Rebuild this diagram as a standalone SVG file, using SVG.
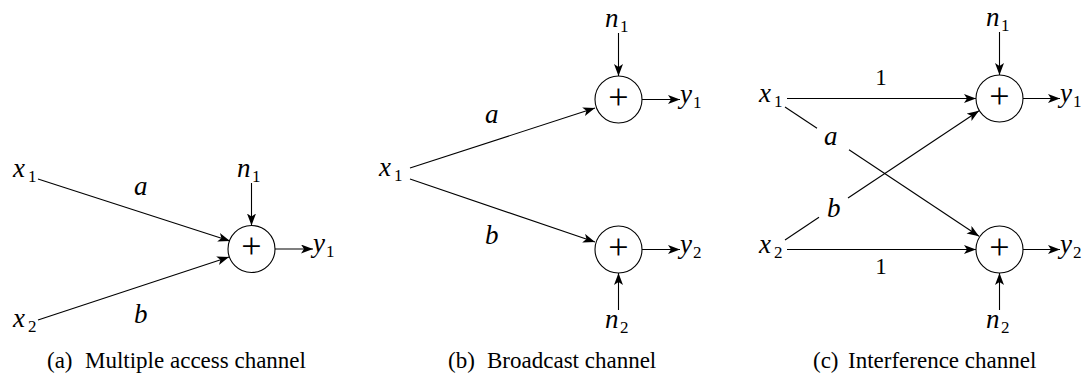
<svg xmlns="http://www.w3.org/2000/svg" width="1091" height="374" viewBox="0 0 1091 374">
<style>
.m{font-style:italic;font-size:27px;fill:#000}
.s{font-style:normal;font-size:17px}
.u{font-size:23px;text-anchor:middle;fill:#000}
.cap{font-size:23px;fill:#000}
.ln{stroke:#000;stroke-width:1.1;fill:none}
.ar{marker-end:url(#arr)}
.sum{fill:#fff;stroke:#000;stroke-width:1.1}
.plus{font-size:36px;text-anchor:middle;fill:#000}
</style>
<defs>
<marker id="arr" markerUnits="userSpaceOnUse" markerWidth="13" markerHeight="10" refX="12" refY="4.5" orient="auto" viewBox="0 0 13 10">
<path d="M0,0 L12,4.5 L0,9 L3,4.5 z" fill="#000"/>
</marker>
</defs>
<rect width="1091" height="374" fill="#fff"/>

<g id="connectors">
<line class="ln ar" x1="38" y1="179" x2="230" y2="241"/>
<line class="ln ar" x1="38" y1="320" x2="229" y2="257"/>
<line class="ln ar" x1="251.5" y1="183" x2="251.5" y2="225.5"/>
<line class="ln ar" x1="275" y1="249" x2="313" y2="249"/>
<line class="ln ar" x1="410" y1="168" x2="595" y2="108"/>
<line class="ln ar" x1="410" y1="179" x2="595" y2="242"/>
<line class="ln ar" x1="618.5" y1="33" x2="618.5" y2="76"/>
<line class="ln ar" x1="618.5" y1="310" x2="618.5" y2="273"/>
<line class="ln ar" x1="642" y1="99.5" x2="680" y2="99.5"/>
<line class="ln ar" x1="642" y1="249.5" x2="680" y2="249.5"/>
<line class="ln ar" x1="787" y1="98.5" x2="976" y2="98.5"/>
<line class="ln ar" x1="787" y1="249.5" x2="976" y2="249.5"/>
<line class="ln" x1="785" y1="107" x2="817" y2="128.3"/>
<line class="ln ar" x1="849" y1="149.7" x2="979" y2="236.3"/>
<line class="ln" x1="785" y1="240" x2="819" y2="217.3"/>
<line class="ln ar" x1="848" y1="198" x2="979" y2="110.7"/>
<line class="ln ar" x1="999.5" y1="32" x2="999.5" y2="75"/>
<line class="ln ar" x1="999.5" y1="310" x2="999.5" y2="273"/>
<line class="ln ar" x1="1023" y1="98.5" x2="1060" y2="98.5"/>
<line class="ln ar" x1="1023" y1="249.5" x2="1060" y2="249.5"/>
</g>

<g id="edge-labels" font-family="Liberation Serif, serif">
<text class="m" x="134" y="195">a</text>
<text class="m" x="134" y="323">b</text>
<text class="m" x="485" y="123">a</text>
<text class="m" x="485" y="244">b</text>
<text class="m" x="824" y="145">a</text>
<text class="m" x="827" y="217">b</text>
<text class="u" x="881" y="85">1</text>
<text class="u" x="881" y="274">1</text>
</g>

<g id="nodes" font-family="Liberation Serif, serif">
<g id="a-x1"><text class="m" x="13" y="177">x<tspan class="s" x="28" y="182">1</tspan></text></g>
<g id="a-x2"><text class="m" x="13" y="327">x<tspan class="s" x="28" y="332">2</tspan></text></g>
<g id="a-sum"><circle class="sum" cx="251.5" cy="249" r="23.5"/><text class="plus" x="251.5" y="258">+</text></g>
<g id="a-n1"><text class="m" x="237" y="177">n<tspan class="s" x="252" y="182">1</tspan></text></g>
<g id="a-y1"><text class="m" x="313" y="252">y<tspan class="s" x="326" y="257">1</tspan></text></g>

<g id="b-x1"><text class="m" x="379" y="176">x<tspan class="s" x="394" y="181">1</tspan></text></g>
<g id="b-sum1"><circle class="sum" cx="618.5" cy="99.5" r="23.5"/><text class="plus" x="618.5" y="108.5">+</text></g>
<g id="b-sum2"><circle class="sum" cx="618.5" cy="249.5" r="23.5"/><text class="plus" x="618.5" y="258.5">+</text></g>
<g id="b-n1"><text class="m" x="605" y="27">n<tspan class="s" x="620" y="32">1</tspan></text></g>
<g id="b-n2"><text class="m" x="605" y="328">n<tspan class="s" x="620" y="333">2</tspan></text></g>
<g id="b-y1"><text class="m" x="680" y="102.5">y<tspan class="s" x="693" y="107.5">1</tspan></text></g>
<g id="b-y2"><text class="m" x="680" y="252.5">y<tspan class="s" x="693" y="257.5">2</tspan></text></g>

<g id="c-x1"><text class="m" x="759" y="102">x<tspan class="s" x="774" y="107">1</tspan></text></g>
<g id="c-x2"><text class="m" x="759" y="253">x<tspan class="s" x="774" y="258">2</tspan></text></g>
<g id="c-sum1"><circle class="sum" cx="999.5" cy="98.5" r="23.5"/><text class="plus" x="999.5" y="107.5">+</text></g>
<g id="c-sum2"><circle class="sum" cx="999.5" cy="249.5" r="23.5"/><text class="plus" x="999.5" y="258.5">+</text></g>
<g id="c-n1"><text class="m" x="986" y="26">n<tspan class="s" x="1001" y="31">1</tspan></text></g>
<g id="c-n2"><text class="m" x="986" y="328">n<tspan class="s" x="1001" y="333">2</tspan></text></g>
<g id="c-y1"><text class="m" x="1060" y="101.5">y<tspan class="s" x="1073" y="106.5">1</tspan></text></g>
<g id="c-y2"><text class="m" x="1060" y="252.5">y<tspan class="s" x="1073" y="257.5">2</tspan></text></g>
</g>

<g id="captions" font-family="Liberation Serif, serif">
<text class="cap" x="47" y="368">(a)<tspan x="85">Multiple access channel</tspan></text>
<text class="cap" x="448" y="368">(b)<tspan x="487">Broadcast channel</tspan></text>
<text class="cap" x="813" y="368">(c)<tspan x="848">Interference channel</tspan></text>
</g>
</svg>
